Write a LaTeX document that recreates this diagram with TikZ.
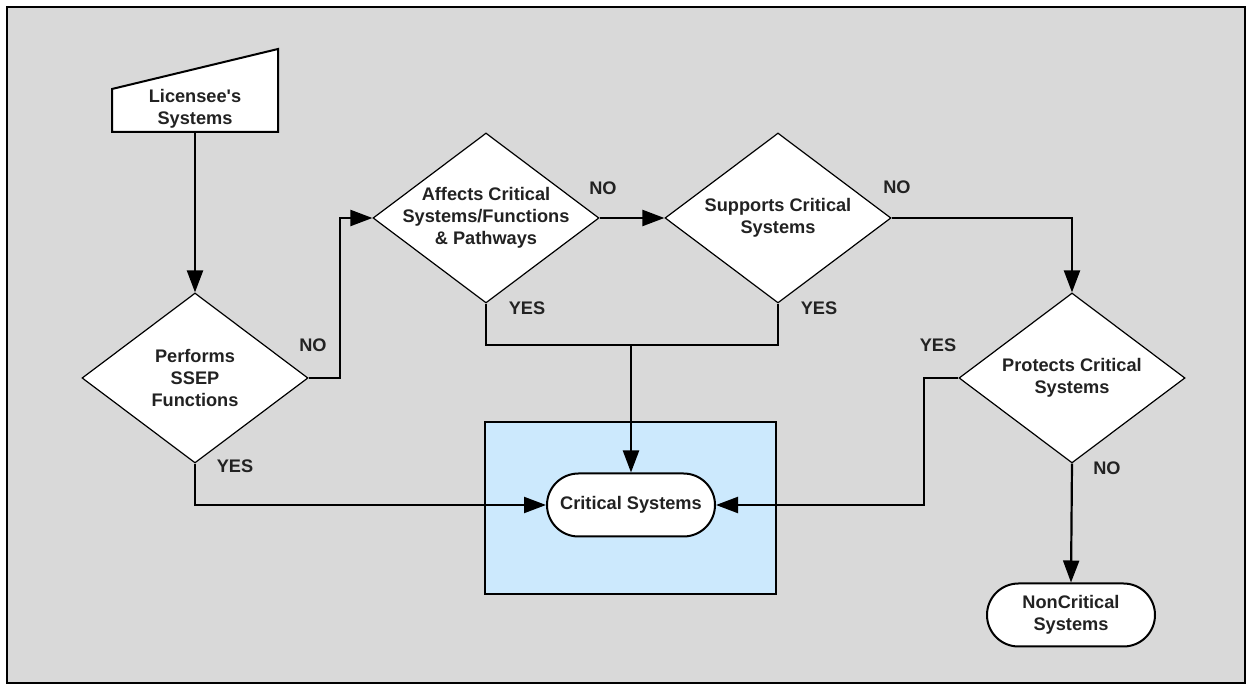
\documentclass[tikz,border=0pt]{standalone}
\usepackage{fontspec}
\setmainfont{Liberation Sans}
\usetikzlibrary{shapes.geometric,shapes.misc,arrows.meta}
\definecolor{bggray}{HTML}{D9D9D9}
\definecolor{critblue}{HTML}{CCE9FD}
\definecolor{txtgray}{HTML}{222222}

\begin{document}
\begin{tikzpicture}[x=0.5pt,y=-0.5pt,
  every node/.style={font=\fontsize{9.1}{11}\selectfont\bfseries, text=txtgray, align=center},
  decision/.style={draw, fill=white, line width=0.6pt, diamond, inner sep=0pt,
    minimum width=113pt, minimum height=85pt},
  terminal/.style={draw, fill=white, line width=1pt, rounded rectangle,
    minimum width=84pt, minimum height=31.5pt, inner sep=0pt},
  flow/.style={line width=1.1pt, -{Triangle[length=11pt,width=8pt]}},
  wire/.style={line width=1.1pt}]
  \useasboundingbox (0,0) rectangle (1250,689);
  % frame
  \draw [line width=1pt, fill=bggray] (7,7) rectangle (1245,683);
  \draw [line width=0.8pt, fill=critblue] (485,422) rectangle (776,594);

  % start shape
  \draw [line width=1pt, fill=white] (112,132) -- (112,89) -- (278,49) -- (278,132) -- cycle;
  \node (lic) at (195,109) {Licensee\textquotesingle s\\Systems};
  \coordinate (licb) at (195,132);

  % decisions
  \node [decision, label={center:Performs\\SSEP\\Functions}] (perf) at (195,378) {};
  \node [decision, label={center:Affects Critical\\Systems/Functions\\\& Pathways}] (aff) at (486,218) {};
  \node [decision, label={center:Supports Critical\\Systems}] (sup) at (778,218) {};
  \node [decision, label={center:Protects Critical\\Systems}] (prot) at (1072,378) {};

  % ends
  \node [terminal] (crit) at (631,505) {Critical Systems};
  \node [terminal] (ncrit) at (1071,615) {NonCritical\\Systems};

  % connectors
  \coordinate (perfno) at (340,378);
  \coordinate (join) at (631,345);
  \coordinate (protyes) at (924,378);
  \draw [flow] (licb) -- (perf.north);
  \draw [flow] (perf.east) -- (perfno) |- (aff.west);
  \draw [flow] (aff.east) -- (sup.west);
  \draw [flow] (sup.east) -| (prot.north);
  \draw [wire] (aff.south) |- (join) -| (sup.south);
  \draw [flow] (join) -- (crit.north);
  \draw [flow] (perf.south) |- (crit.west);
  \draw [flow] (prot.west) -- (protyes) |- (crit.east);
  \draw [flow] (prot.south) -- (ncrit.north);

  % labels
  \node (l1) at (313,345) {NO};
  \node (l2) at (235,466) {YES};
  \node (l3) at (603,188) {NO};
  \node (l4) at (527,308) {YES};
  \node (l5) at (897,187) {NO};
  \node (l6) at (819,308) {YES};
  \node (l7) at (938,345) {YES};
  \node (l8) at (1107,468) {NO};
\end{tikzpicture}
\end{document}
